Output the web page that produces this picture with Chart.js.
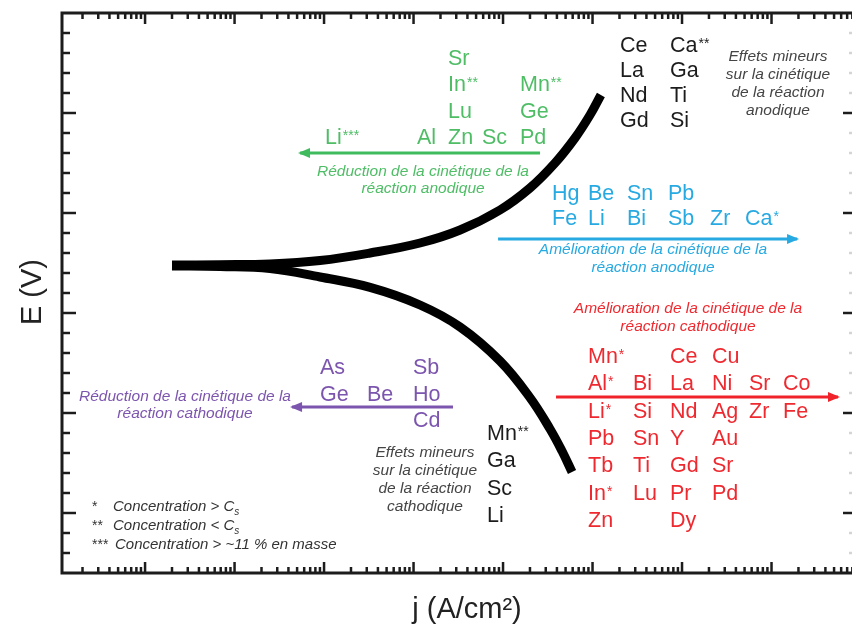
<!DOCTYPE html>
<html lang="fr">
<head>
<meta charset="utf-8">
<title>Diagramme d'Evans</title>
<script src="https://cdn.jsdelivr.net/npm/chart.js@4.4.1/dist/chart.umd.min.js"></script>
<style>
  html, body { margin: 0; padding: 0; background: #fff; overflow: hidden; }
  #evansChart { display: block; }
</style>
</head>
<body>
<canvas id="evansChart" width="858" height="627"></canvas>
<script>
// Courbes anodique / cathodique (j en A/cm², E en unités arbitraires)
const jAnodique = [2.00e-8, 6.89e-8, 2.49e-7, 9.02e-7, 3.27e-6, 1.18e-5, 3.31e-5, 9.25e-5, 2.00e-4, 3.81e-4, 6.37e-4, 9.37e-4, 1.24e-3];
const eAnodique = [1.540, 1.5415, 1.545, 1.5625, 1.600, 1.650, 1.715, 1.815, 1.925, 2.050, 2.175, 2.290, 2.390];
const jCathodique = [2.00e-8, 6.89e-8, 2.49e-7, 9.02e-7, 3.27e-6, 1.18e-5, 3.31e-5, 9.25e-5, 2.00e-4, 3.35e-4, 4.56e-4, 5.90e-4];
const eCathodique = [1.535, 1.5325, 1.5225, 1.480, 1.428, 1.340, 1.230, 1.060, 0.877, 0.720, 0.610, 0.505];

// Flèches : j de départ -> j d'arrivée, à E constant
const jFlecheVerte = [2.59e-4, 5.39e-7];
const eFlecheVerte = [2.10, 2.10];
const jFlecheBleue = [8.8e-5, 0.193];
const eFlecheBleue = [1.67, 1.67];
const jFlecheRouge = [3.91e-4, 0.553];
const eFlecheRouge = [0.88, 0.88];
const jFlecheViolette = [2.76e-5, 4.39e-7];
const eFlecheViolette = [0.83, 0.83];

// Éléments (colonnes, null = case vide)
const elemVert = [[null, null, null, 'Li***'], [null, null, null, 'Al'], ['Sr', 'In**', 'Lu', 'Zn'], [null, null, null, 'Sc'], [null, 'Mn**', 'Ge', 'Pd']];
const elemNoirHaut = [['Ce', 'La', 'Nd', 'Gd'], ['Ca**', 'Ga', 'Ti', 'Si']];
const elemBleu = [['Hg', 'Fe'], ['Be', 'Li'], ['Sn', 'Bi'], ['Pb', 'Sb'], [null, 'Zr'], [null, 'Ca*']];
const elemRouge = [
    ['Mn*', 'Al*', 'Li*', 'Pb', 'Tb', 'In*', 'Zn'],
    [null, 'Bi', 'Si', 'Sn', 'Ti', 'Lu'],
    ['Ce', 'La', 'Nd', 'Y', 'Gd', 'Pr', 'Dy'],
    ['Cu', 'Ni', 'Ag', 'Au', 'Sr', 'Pd'],
    [null, 'Sr', 'Zr'],
    [null, 'Co', 'Fe']
];
const elemViolet = [['As', 'Ge'], [null, 'Be'], ['Sb', 'Ho', 'Cd']];
const elemNoirBas = [['Mn**', 'Ga', 'Sc', 'Li']];

// Légendes en italique
const txtVert = ['Réduction de la cinétique de la', 'réaction anodique'];
const txtBleu = ['Amélioration de la cinétique de la', 'réaction anodique'];
const txtRouge = ['Amélioration de la cinétique de la', 'réaction cathodique'];
const txtViolet = ['Réduction de la cinétique de la', 'réaction cathodique'];
const txtNoirHaut = ['Effets mineurs', 'sur la cinétique', 'de la réaction', 'anodique'];
const txtNoirBas = ['Effets mineurs', 'sur la cinétique', 'de la réaction', 'cathodique'];
const notes = [['*', 'Concentration > C', 's'], ['**', 'Concentration < C', 's'], ['***', 'Concentration > ~11 % en masse', '']];

const FONT = '"Liberation Sans", Arial, sans-serif';
const VERT = '#4fbd66', BLEU = '#27a9e1', ROUGE = '#ee2a30', VIOLET = '#7c55ae', NOIR = '#1c1c1c', GRIS = '#454545';

function points(js, es) {
    return js.map((j, i) => ({ x: j, y: es[i] }));
}

function drawName(ctx, name, x, y) {
    const base = name.replace(/\*+$/, '');
    const stars = name.slice(base.length);
    ctx.font = '21.5px ' + FONT;
    ctx.fillText(base, x, y);
    if (stars) {
        const w = ctx.measureText(base).width;
        ctx.font = '14px ' + FONT;
        ctx.fillText(stars, x + w + 1, y - 4);
    }
}

function drawGroup(ctx, cols, color, lefts, top, step) {
    ctx.fillStyle = color;
    ctx.textAlign = 'left';
    cols.forEach((col, c) => {
        col.forEach((name, r) => {
            if (name) drawName(ctx, name, lefts[c], top + r * step);
        });
    });
}

function drawCaption(ctx, lines, color, cx, top, step) {
    ctx.fillStyle = color;
    ctx.textAlign = 'center';
    ctx.font = 'italic 15.5px ' + FONT;
    lines.forEach((l, i) => ctx.fillText(l, cx, top + i * step));
}

const decor = {
    id: 'decor',
    afterDatasetsDraw(chart) {
        const { ctx, chartArea: a, scales: { x, y } } = chart;
        ctx.save();
        ctx.textBaseline = 'alphabetic';

        // têtes de flèches
        chart.data.datasets.forEach((ds, i) => {
            if (!ds.fleche) return;
            const pts = chart.getDatasetMeta(i).data;
            const p0 = pts[0], p1 = pts[pts.length - 1];
            const dir = Math.sign(p1.x - p0.x);
            ctx.fillStyle = ds.borderColor;
            ctx.beginPath();
            ctx.moveTo(p1.x + dir * 2, p1.y);
            ctx.lineTo(p1.x - dir * 10, p1.y - 5);
            ctx.lineTo(p1.x - dir * 10, p1.y + 5);
            ctx.closePath();
            ctx.fill();
        });

        // cadre
        ctx.strokeStyle = NOIR;
        ctx.lineWidth = 3;
        ctx.strokeRect(a.left, a.top, a.right - a.left, a.bottom - a.top);

        // graduations intérieures
        const seg = (x1, y1, x2, y2) => { ctx.beginPath(); ctx.moveTo(x1, y1); ctx.lineTo(x2, y2); ctx.stroke(); };
        ctx.lineWidth = 2.5;
        for (let k = 1; k < 28; k++) {
            const py = y.getPixelForValue(k / 10);
            const major = (k - 3) % 5 === 0;
            ctx.strokeStyle = NOIR;
            seg(a.left, py, a.left + (major ? 14 : 8), py);
            ctx.strokeStyle = major ? NOIR : '#d4d4d4';
            seg(a.right - (major ? 13 : 7), py, a.right, py);
        }
        ctx.strokeStyle = NOIR;
        for (let e = -9; e <= 0; e++) {
            for (let m = 1; m <= 9; m++) {
                const v = m * Math.pow(10, e);
                if (v <= x.min || v >= x.max) continue;
                const px = x.getPixelForValue(v);
                const len = m === 1 ? 11 : 6;
                seg(px, a.top, px, a.top + len);
                seg(px, a.bottom, px, a.bottom - len);
            }
        }

        // titres des axes
        ctx.fillStyle = '#222';
        ctx.font = '29px ' + FONT;
        ctx.textAlign = 'center';
        ctx.fillText('j (A/cm²)', 467, 618);
        ctx.save();
        ctx.translate(41, 292);
        ctx.rotate(-Math.PI / 2);
        ctx.fillText('E (V)', 0, 0);
        ctx.restore();

        // groupes d'éléments
        drawGroup(ctx, elemVert, VERT, [325, 417, 448, 482, 520], 65, 26.4);
        drawGroup(ctx, elemNoirHaut, NOIR, [620, 670], 52, 25);
        drawGroup(ctx, elemBleu, BLEU, [552, 588, 627, 668, 710, 745], 200, 25);
        drawGroup(ctx, elemRouge, ROUGE, [588, 633, 670, 712, 749, 783], 363, 27.3);
        drawGroup(ctx, elemViolet, VIOLET, [320, 367, 413], 374, 26.5);
        drawGroup(ctx, elemNoirBas, NOIR, [487], 440, 27.3);

        // légendes
        drawCaption(ctx, txtVert, VERT, 423, 176, 17);
        drawCaption(ctx, txtBleu, BLEU, 653, 254, 18);
        drawCaption(ctx, txtRouge, ROUGE, 688, 313, 18);
        drawCaption(ctx, txtViolet, VIOLET, 185, 401, 17);
        drawCaption(ctx, txtNoirHaut, GRIS, 778, 61, 18);
        drawCaption(ctx, txtNoirBas, GRIS, 425, 457, 18);

        // notes
        ctx.textAlign = 'left';
        ctx.fillStyle = '#333';
        notes.forEach((n, i) => {
            const by = 511 + i * 19;
            ctx.font = '14px ' + FONT;
            ctx.fillText(n[0], 92, by);
            ctx.font = 'italic 15px ' + FONT;
            const tx = i === 2 ? 115 : 113;
            ctx.fillText(n[1], tx, by);
            if (n[2]) {
                const w = ctx.measureText(n[1]).width;
                ctx.font = 'italic 10px ' + FONT;
                ctx.fillText(n[2], tx + w, by + 4);
            }
        });
        ctx.restore();
    }
};

document.addEventListener('DOMContentLoaded', function () {
    const ctx = document.getElementById('evansChart').getContext('2d');
    const courbe = { borderColor: '#000', borderWidth: 9, pointRadius: 0, tension: 0.4, borderCapStyle: 'butt', borderJoinStyle: 'round', fill: false };
    const fleche = (color) => ({ borderColor: color, borderWidth: 3, pointRadius: 0, fleche: true, fill: false });

    new Chart(ctx, {
        type: 'line',
        data: {
            datasets: [
                Object.assign({ label: 'Anodique', data: points(jAnodique, eAnodique) }, courbe),
                Object.assign({ label: 'Cathodique', data: points(jCathodique, eCathodique) }, courbe),
                Object.assign({ label: 'Réduction anodique', data: points(jFlecheVerte, eFlecheVerte) }, fleche('#3fbb5d')),
                Object.assign({ label: 'Amélioration anodique', data: points(jFlecheBleue, eFlecheBleue) }, fleche(BLEU)),
                Object.assign({ label: 'Amélioration cathodique', data: points(jFlecheRouge, eFlecheRouge) }, fleche('#f0222a')),
                Object.assign({ label: 'Réduction cathodique', data: points(jFlecheViolette, eFlecheViolette) }, fleche(VIOLET))
            ]
        },
        options: {
            responsive: false,
            animation: false,
            layout: { padding: { left: 62, top: 13, right: 2, bottom: 54 } },
            plugins: {
                legend: { display: false },
                tooltip: { enabled: false }
            },
            scales: {
                x: { type: 'logarithmic', min: 1.18e-9, max: 0.879, bounds: 'data', display: false },
                y: { type: 'linear', min: 0, max: 2.8, bounds: 'data', display: false }
            }
        },
        plugins: [decor]
    });
});
</script>
</body>
</html>
